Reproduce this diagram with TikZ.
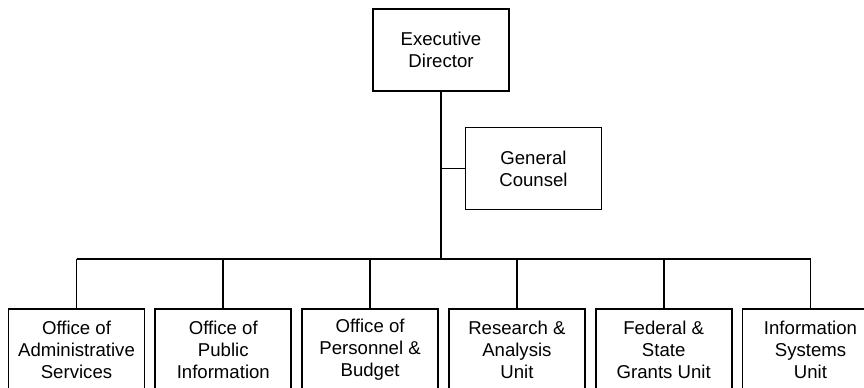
\documentclass[tikz,border=0pt]{standalone}
\usepackage{fontspec}
\setmainfont{Liberation Sans}
\usetikzlibrary{positioning}

\begin{document}
\begin{tikzpicture}[x=0.5pt,y=-0.5pt,
  unit/.style={draw, line width=0.9pt, minimum width=68pt, minimum height=41pt,
    inner sep=0pt, align=center, font=\fontsize{9.3}{11}\selectfont},
  link/.style={line width=0.9pt}]
  \useasboundingbox (0,0) rectangle (864,387);
  \clip (0,0) rectangle (864,387);

  \node[unit] (dir) at (441,50) {Executive\\Director};
  \node[unit] (counsel) at (533.5,168.5) {General\\Counsel};

  \node[unit] (admin) at (76.5,350) {Office of\\Administrative\\Services};
  \node[unit, right=4.5pt of admin] (public) {Office of\\Public\\Information};
  \node[unit, right=4.5pt of public] (budget) {Office of\\Personnel \&\\Budget};
  \node[unit, right=4.5pt of budget] (research) {Research \&\\Analysis\\Unit};
  \node[unit, right=4.5pt of research] (grants) {Federal \&\\State\\Grants Unit};
  \node[unit, right=4.5pt of grants] (infosys) {Information\\Systems\\Unit};

  \coordinate (bus) at (0,259);

  \draw[link] (dir.south) -- (dir.south |- bus);
  \draw[link] (dir.south |- counsel.west) -- (counsel.west);
  \draw[link] (admin.north |- bus) -- (infosys.north |- bus);

  \foreach \u in {admin,public,budget,research,grants,infosys}
    \draw[link] (\u.north) -- (\u.north |- bus);
\end{tikzpicture}
\end{document}
